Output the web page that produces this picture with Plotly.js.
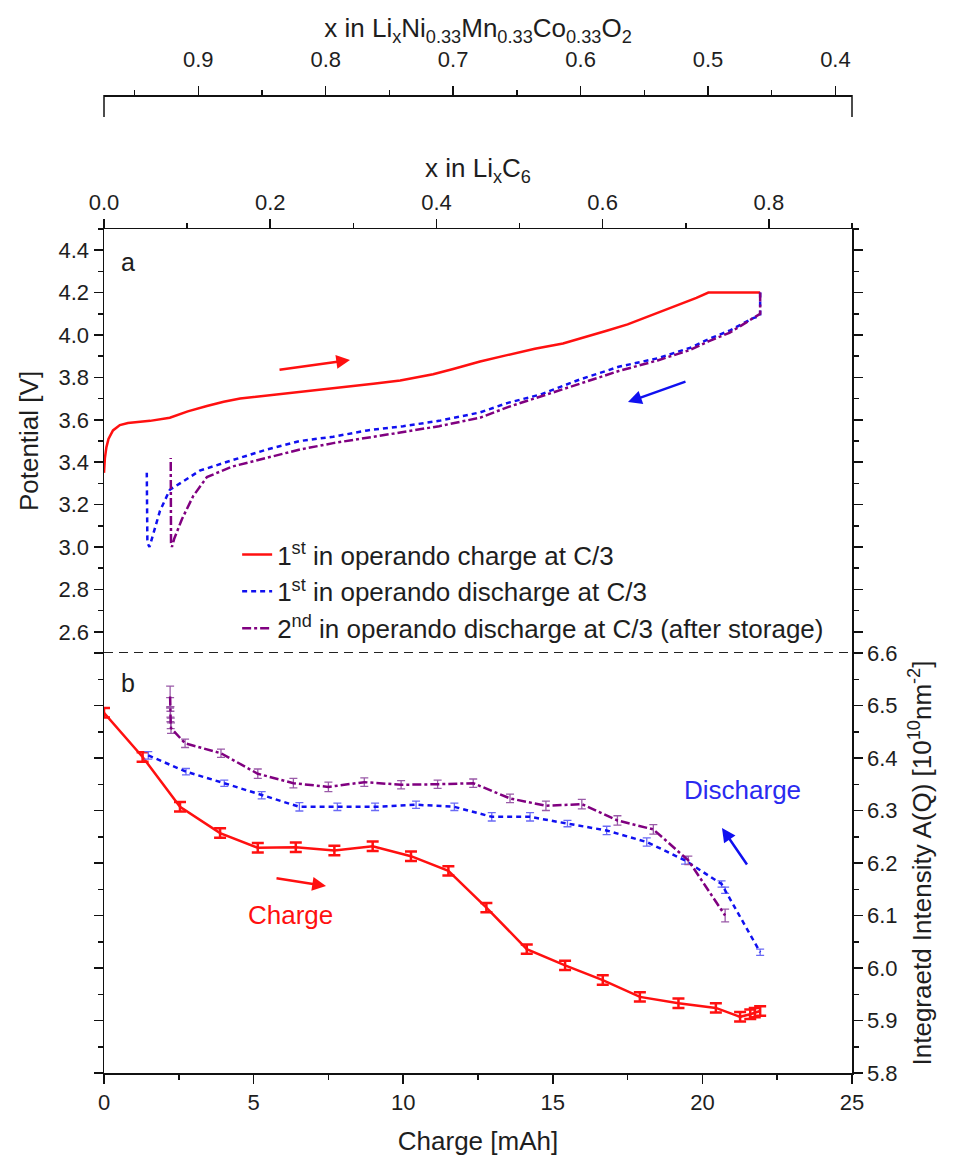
<!DOCTYPE html>
<html>
<head>
<meta charset="utf-8">
<script src="https://cdn.plot.ly/plotly-3.0.1.min.js"></script>
<style>html,body{margin:0;padding:0;background:#fff;}#chart{width:957px;height:1157px;}</style>
</head>
<body>
<div id="chart"></div>
<script>
// ---------- Panel a: potential profiles ----------
const chargeQ = [0, 0.03, 0.08, 0.15, 0.3, 0.53, 0.8, 1.2, 1.54, 2.2, 2.8, 3.44, 4.0, 4.55, 5.2, 5.78, 7.0, 8.2, 9.0, 9.9, 11.0, 11.67, 12.57, 13.47, 14.4, 15.34, 16.1, 16.8, 17.5, 18.15, 18.7, 19.25, 19.8, 20.2, 21.0, 21.93];
const chargeV = [3.35, 3.42, 3.47, 3.51, 3.55, 3.575, 3.585, 3.59, 3.595, 3.61, 3.64, 3.665, 3.685, 3.70, 3.71, 3.72, 3.74, 3.755, 3.77, 3.785, 3.815, 3.84, 3.875, 3.905, 3.935, 3.96, 3.99, 4.02, 4.05, 4.085, 4.115, 4.145, 4.175, 4.20, 4.20, 4.20];

const dis1Q = [21.93, 21.93, 21.7, 20.9, 20.2, 19.6, 18.5, 17.2, 15.9, 14.6, 13.5, 12.57, 11.2, 10.0, 8.8, 7.66, 6.55, 5.45, 4.3, 3.2, 2.54, 2.2, 1.87, 1.65, 1.52, 1.45, 1.43];
const dis1V = [4.20, 4.09, 4.08, 4.02, 3.98, 3.94, 3.89, 3.85, 3.79, 3.72, 3.68, 3.635, 3.595, 3.57, 3.55, 3.52, 3.50, 3.46, 3.41, 3.36, 3.30, 3.27, 3.17, 3.07, 3.00, 3.02, 3.35];

const dis2Q = [21.93, 21.93, 21.7, 20.9, 20.2, 19.6, 18.5, 17.2, 15.9, 14.6, 13.5, 12.57, 11.2, 9.9, 8.8, 7.66, 6.55, 5.45, 4.3, 3.44, 2.98, 2.6, 2.35, 2.27, 2.24, 2.23];
const dis2V = [4.20, 4.10, 4.08, 4.01, 3.97, 3.93, 3.88, 3.83, 3.77, 3.71, 3.66, 3.61, 3.57, 3.54, 3.515, 3.49, 3.46, 3.42, 3.38, 3.33, 3.24, 3.13, 3.04, 3.00, 3.02, 3.42];

// ---------- Panel b: integrated intensity ----------
const intChargeQ = [0, 1.29, 2.54, 3.88, 5.14, 6.41, 7.70, 8.98, 10.26, 11.51, 12.78, 14.13, 15.41, 16.67, 17.91, 19.20, 20.45, 21.26, 21.6, 21.75, 21.93];
const intChargeA = [6.486, 6.402, 6.307, 6.257, 6.229, 6.230, 6.224, 6.232, 6.213, 6.185, 6.115, 6.036, 6.005, 5.977, 5.945, 5.933, 5.924, 5.907, 5.912, 5.915, 5.918];
const intChargeErr = [0.009, 0.009, 0.009, 0.009, 0.009, 0.009, 0.009, 0.009, 0.009, 0.009, 0.009, 0.009, 0.009, 0.009, 0.009, 0.009, 0.009, 0.009, 0.009, 0.009, 0.009];

const intDis1Q = [1.48, 2.74, 4.02, 5.27, 6.53, 7.80, 9.06, 10.43, 11.71, 12.96, 14.24, 15.49, 16.80, 18.14, 19.42, 20.64, 20.76, 21.93];
const intDis1A = [6.405, 6.374, 6.352, 6.329, 6.307, 6.307, 6.307, 6.311, 6.307, 6.288, 6.288, 6.275, 6.262, 6.240, 6.205, 6.160, 6.148, 6.030];
const intDis1Err = [0.007, 0.006, 0.006, 0.007, 0.008, 0.007, 0.007, 0.007, 0.007, 0.008, 0.008, 0.006, 0.008, 0.008, 0.007, 0.006, 0.006, 0.006];

const intDis2Q = [2.21, 2.21, 2.22, 2.22, 2.23, 2.24, 2.71, 3.91, 5.14, 6.33, 7.50, 8.70, 9.93, 11.15, 12.34, 13.57, 14.77, 15.97, 17.16, 18.36, 19.53, 20.76];
const intDis2A = [6.517, 6.505, 6.488, 6.479, 6.466, 6.457, 6.428, 6.409, 6.370, 6.352, 6.345, 6.354, 6.349, 6.350, 6.352, 6.323, 6.309, 6.312, 6.281, 6.264, 6.205, 6.100];
const intDis2Err = [0.02, 0.01, 0.01, 0.01, 0.01, 0.01, 0.008, 0.008, 0.009, 0.009, 0.009, 0.008, 0.008, 0.008, 0.008, 0.008, 0.009, 0.009, 0.009, 0.009, 0.008, 0.012];

// ---------- labels ----------
const legendNames = [
  '1<sup>st</sup> in operando charge at C/3',
  '1<sup>st</sup> in operando discharge at C/3',
  '2<sup>nd</sup> in operando discharge at C/3 (after storage)'
];
const xTitle = 'Charge [mAh]';
const yTitleA = 'Potential [V]';
const yTitleB = 'Integraetd Intensity A(Q) [10<sup>10</sup>nm<sup>-2</sup>]';
const topTitle1 = 'x in Li<sub>x</sub>C<sub>6</sub>';
const topTitle2 = 'x in Li<sub>x</sub>Ni<sub>0.33</sub>Mn<sub>0.33</sub>Co<sub>0.33</sub>O<sub>2</sub>';

const RED = '#ff1010', BLUE = '#1010f0', PURPLE = '#800080';
const FONT = 'Liberation Sans, Arial, sans-serif';
const TXT = '#1e1e1e';

const traces = [
  {x: chargeQ, y: chargeV, xaxis: 'x', yaxis: 'y', mode: 'lines', name: legendNames[0],
   line: {color: RED, width: 2.5}},
  {x: dis1Q, y: dis1V, xaxis: 'x', yaxis: 'y', mode: 'lines', name: legendNames[1],
   line: {color: BLUE, width: 2.5, dash: '5px,4px'}},
  {x: dis2Q, y: dis2V, xaxis: 'x', yaxis: 'y', mode: 'lines', name: legendNames[2],
   line: {color: PURPLE, width: 2.5, dash: '9px,3px,3px,3px'}},

  {x: intChargeQ, y: intChargeA, xaxis: 'x', yaxis: 'y2', mode: 'lines', showlegend: false,
   line: {color: RED, width: 2.5},
   error_y: {type: 'data', array: intChargeErr, visible: true, color: RED, thickness: 2.5, width: 6}},
  {x: intDis1Q, y: intDis1A, xaxis: 'x', yaxis: 'y2', mode: 'lines', showlegend: false,
   line: {color: BLUE, width: 2.5, dash: '5px,4px'},
   error_y: {type: 'data', array: intDis1Err, visible: true, color: '#6a6af5', thickness: 1.3, width: 4}},
  {x: intDis2Q, y: intDis2A, xaxis: 'x', yaxis: 'y2', mode: 'lines', showlegend: false,
   line: {color: PURPLE, width: 2.5, dash: '9px,3px,3px,3px'},
   error_y: {type: 'data', array: intDis2Err, visible: true, color: '#9a5aa8', thickness: 1.3, width: 4}},

  // empty traces so the secondary axes are drawn
  {x: [], y: [], xaxis: 'x2', yaxis: 'y', showlegend: false, hoverinfo: 'skip'},
  {x: [], y: [], xaxis: 'x3', yaxis: 'y', showlegend: false, hoverinfo: 'skip'},
  {x: [], y: [], xaxis: 'x', yaxis: 'y3', showlegend: false, hoverinfo: 'skip'},
  {x: [], y: [], xaxis: 'x', yaxis: 'y4', showlegend: false, hoverinfo: 'skip'}
];

const tickCommon = {
  showline: true, linecolor: '#111', linewidth: 1.5,
  ticks: 'outside', ticklen: 9, tickwidth: 1.5, tickcolor: '#111',
  showgrid: false, zeroline: false, automargin: false,
  tickfont: {family: FONT, size: 22, color: TXT}
};
const minorCommon = {ticks: 'outside', ticklen: 5, tickwidth: 1.5, tickcolor: '#111', showgrid: false};

const H = 1073; // plot area height in px (margin t = 0)
const yMid = 420 / H, yTop = 844 / H;

const layout = {
  width: 957, height: 1157,
  margin: {l: 104, r: 105, t: 0, b: 84},
  paper_bgcolor: '#fff', plot_bgcolor: '#fff',
  font: {family: FONT, color: TXT},
  showlegend: true,
  legend: {x: 0.178, y: 0.505, xanchor: 'left', yanchor: 'top', bgcolor: 'rgba(0,0,0,0)',
           font: {family: FONT, size: 26, color: TXT}, tracegroupgap: 0},
  xaxis: Object.assign({}, tickCommon, {
    range: [0, 25], dtick: 5, tick0: 0, anchor: 'y2',
    minor: Object.assign({}, minorCommon, {dtick: 2.5}),
    title: {text: xTitle, font: {family: FONT, size: 26, color: TXT}, standoff: 18}
  }),
  xaxis2: Object.assign({}, tickCommon, {
    range: [0, 0.9], dtick: 0.2, tick0: 0, tickformat: '.1f', overlaying: 'x', side: 'top', anchor: 'y',
    minor: Object.assign({}, minorCommon, {dtick: 0.1}),
    title: {text: topTitle1, font: {family: FONT, size: 26, color: TXT}, standoff: 4}
  }),
  xaxis3: Object.assign({}, tickCommon, {
    range: [0.974, 0.387], dtick: 0.1, tick0: 0, tickformat: '.1f', overlaying: 'x', side: 'top',
    anchor: 'free', position: (H - 95) / H, ticklabelstandoff: 10,
    minor: Object.assign({}, minorCommon, {dtick: 0.05}),
    title: {text: topTitle2, font: {family: FONT, size: 26, color: TXT}, standoff: 0}
  }),
  yaxis: Object.assign({}, tickCommon, {
    domain: [yMid, yTop], range: [2.5, 4.5], tickformat: '.1f', anchor: 'x', side: 'left',
    tickvals: [2.6, 2.8, 3.0, 3.2, 3.4, 3.6, 3.8, 4.0, 4.2, 4.4],
    minor: Object.assign({}, minorCommon, {dtick: 0.1, tick0: 2.5}),
    title: {text: yTitleA, font: {family: FONT, size: 26, color: TXT}, standoff: 12}
  }),
  yaxis2: Object.assign({}, tickCommon, {
    domain: [0, yMid], range: [5.8, 6.6], dtick: 0.1, tick0: 5.8, tickformat: '.1f', anchor: 'x', side: 'right',
    minor: Object.assign({}, minorCommon, {dtick: 0.05}),
    title: {text: yTitleB, font: {family: FONT, size: 26, color: TXT}, standoff: 16}
  }),
  yaxis3: Object.assign({}, tickCommon, {
    range: [5.8, 6.6], dtick: 0.1, tick0: 5.8, overlaying: 'y2', side: 'left', anchor: 'x',
    showticklabels: false,
    minor: Object.assign({}, minorCommon, {dtick: 0.05})
  }),
  yaxis4: Object.assign({}, tickCommon, {
    range: [2.5, 4.5], dtick: 0.2, tick0: 2.6, overlaying: 'y', side: 'right', anchor: 'x',
    showticklabels: false,
    minor: Object.assign({}, minorCommon, {dtick: 0.1, tick0: 2.5})
  }),
  shapes: [
    {type: 'line', xref: 'paper', yref: 'y', x0: 0, x1: 1, y0: 2.5, y1: 2.5,
     line: {color: '#222', width: 1.8, dash: '9px,6px'}},
    {type: 'line', xref: 'paper', yref: 'paper', x0: 0, x1: 0, y0: (H - 95) / H, y1: (H - 117) / H,
     line: {color: '#111', width: 1.5}},
    {type: 'line', xref: 'paper', yref: 'paper', x0: 1, x1: 1, y0: (H - 95) / H, y1: (H - 117) / H,
     line: {color: '#111', width: 1.5}}
  ],
  annotations: [
    {text: 'a', xref: 'paper', yref: 'paper', x: 0.032, y: 0.7558, xanchor: 'center', yanchor: 'middle',
     showarrow: false, font: {family: FONT, size: 25, color: TXT}},
    {text: 'b', xref: 'paper', yref: 'paper', x: 0.032, y: 0.3635, xanchor: 'center', yanchor: 'middle',
     showarrow: false, font: {family: FONT, size: 25, color: TXT}},
    {text: 'Charge', xref: 'paper', yref: 'paper', x: 0.2487, y: 0.1473, xanchor: 'center', yanchor: 'middle',
     showarrow: false, font: {family: FONT, size: 26, color: RED}},
    {text: 'Discharge', xref: 'paper', yref: 'paper', x: 0.853, y: 0.2637, xanchor: 'center', yanchor: 'middle',
     showarrow: false, font: {family: FONT, size: 26, color: '#2a2af0'}},
    // arrows
    {text: '', xref: 'paper', yref: 'paper', x: 0.3289, y: 0.6645, ax: -72, ay: 10,
     showarrow: true, arrowhead: 2, arrowsize: 1.1, arrowwidth: 2.5, arrowcolor: RED},
    {text: '', xref: 'paper', yref: 'paper', x: 0.7005, y: 0.6253, ax: 59, ay: -21,
     showarrow: true, arrowhead: 2, arrowsize: 1.1, arrowwidth: 2.5, arrowcolor: BLUE},
    {text: '', xref: 'paper', yref: 'paper', x: 0.2968, y: 0.1743, ax: -51, ay: -8,
     showarrow: true, arrowhead: 2, arrowsize: 1.1, arrowwidth: 2.5, arrowcolor: RED},
    {text: '', xref: 'paper', yref: 'paper', x: 0.8262, y: 0.2283, ax: 26, ay: 38,
     showarrow: true, arrowhead: 2, arrowsize: 1.1, arrowwidth: 2.5, arrowcolor: BLUE}
  ]
};

Plotly.newPlot('chart', traces, layout, {displayModeBar: false, staticPlot: true});
</script>
</body>
</html>
